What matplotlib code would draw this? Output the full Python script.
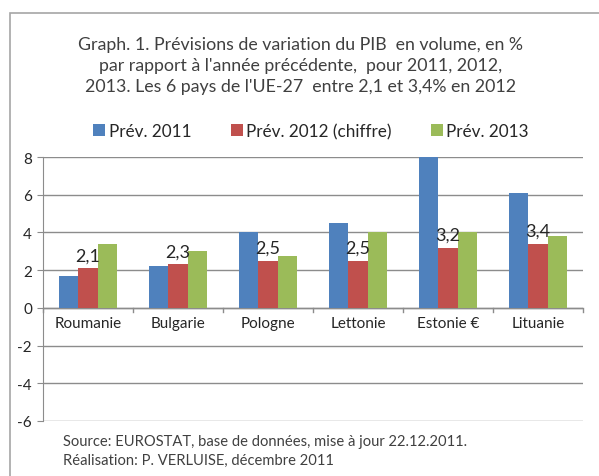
import matplotlib
matplotlib.use("Agg")
import matplotlib.pyplot as plt
import numpy as np
from matplotlib.patches import Rectangle

categories = ["Roumanie", "Bulgarie", "Pologne", "Lettonie", "Estonie €", "Lituanie"]
prev_2011 = [1.7, 2.2, 4.0, 4.5, 8.0, 6.1]
prev_2012 = [2.1, 2.3, 2.5, 2.5, 3.2, 3.4]
prev_2013 = [3.4, 3.0, 2.75, 4.0, 4.0, 3.8]
labels_2012 = ["2,1", "2,3", "2,5", "2,5", "3,2", "3,4"]
series_names = ["Prév. 2011", "Prév. 2012 (chiffre)", "Prév. 2013"]
yticks = [-6, -4, -2, 0, 2, 4, 6, 8]

plt.rcParams['font.family'] = ['Lato', 'DejaVu Sans']
W, H = 599, 477
fig = plt.figure(figsize=(W/100, H/100), dpi=100)

def fx(px): return px / W
def fy(py): return 1 - py / H

# outer border
fig.patches.append(Rectangle((fx(10), fy(500)), fx(620), fy(14) - fy(500),
                             transform=fig.transFigure, fill=False,
                             edgecolor="#a6a6a6", lw=1.2))

ax = fig.add_axes([fx(43), fy(422), fx(583) - fx(43), fy(158) - fy(422)])
colors = ["#4F81BD", "#C0504D", "#9BBB59"]
x = np.arange(len(categories))
bw = 0.218
for k, (vals, c) in enumerate(zip([prev_2011, prev_2012, prev_2013], colors)):
    ax.bar(x + (k - 1) * bw, vals, width=bw, color=c, label=series_names[k], zorder=3)

for i, lab in enumerate(labels_2012):
    ax.text(x[i], prev_2012[i] + 0.25, lab, ha="center", va="bottom",
            fontsize=13, color="#262626", zorder=4)

ax.set_xlim(-0.5, len(categories) - 0.5)
ax.set_ylim(-6, 8)
ax.set_yticks(yticks)
ax.set_yticklabels([str(t) for t in yticks], fontsize=11, color="#262626")
ax.yaxis.grid(True, color="#8c8c8c", lw=1, zorder=0)
ax.set_axisbelow(True)
for s in ["top", "right", "bottom"]:
    ax.spines[s].set_visible(False)
ax.spines["left"].set_color("#8c8c8c")
ax.tick_params(axis="y", length=4, color="#8c8c8c", pad=4)
ax.set_xticks([])
ax.axhline(0, color="#8c8c8c", lw=1, zorder=2)
for b in np.arange(-0.5, len(categories) + 0.5, 1.0):
    ax.plot([b, b], [0, -0.2], color="#8c8c8c", lw=1, clip_on=False, zorder=2)
for i, c in enumerate(categories):
    ax.text(x[i], -0.45, c, ha="center", va="top", fontsize=11, color="#262626")

title = ("Graph. 1. Prévisions de variation du PIB  en volume, en %\n"
         "par rapport à l'année précédente,  pour 2011, 2012,\n"
         "2013. Les 6 pays de l'UE-27  entre 2,1 et 3,4% en 2012")
fig.text(fx(301), fy(66), title, ha="center", va="center", fontsize=12.8,
         color="#404040", linespacing=1.42)

leg = ax.legend(loc="center", bbox_to_anchor=(fx(311), fy(132)),
                bbox_transform=fig.transFigure, ncol=3, frameon=False,
                fontsize=12.3, handlelength=0.7, handleheight=0.7,
                handletextpad=0.2, columnspacing=2.3)
for t in leg.get_texts():
    t.set_color("#262626")

fig.text(fx(63), fy(442), "Source: EUROSTAT, base de données, mise à jour 22.12.2011.",
         ha="left", va="center", fontsize=10.6, color="#404040")
fig.text(fx(63), fy(461), "Réalisation: P. VERLUISE, décembre 2011",
         ha="left", va="center", fontsize=10.6, color="#404040")

fig.savefig("out.png", dpi=100)
